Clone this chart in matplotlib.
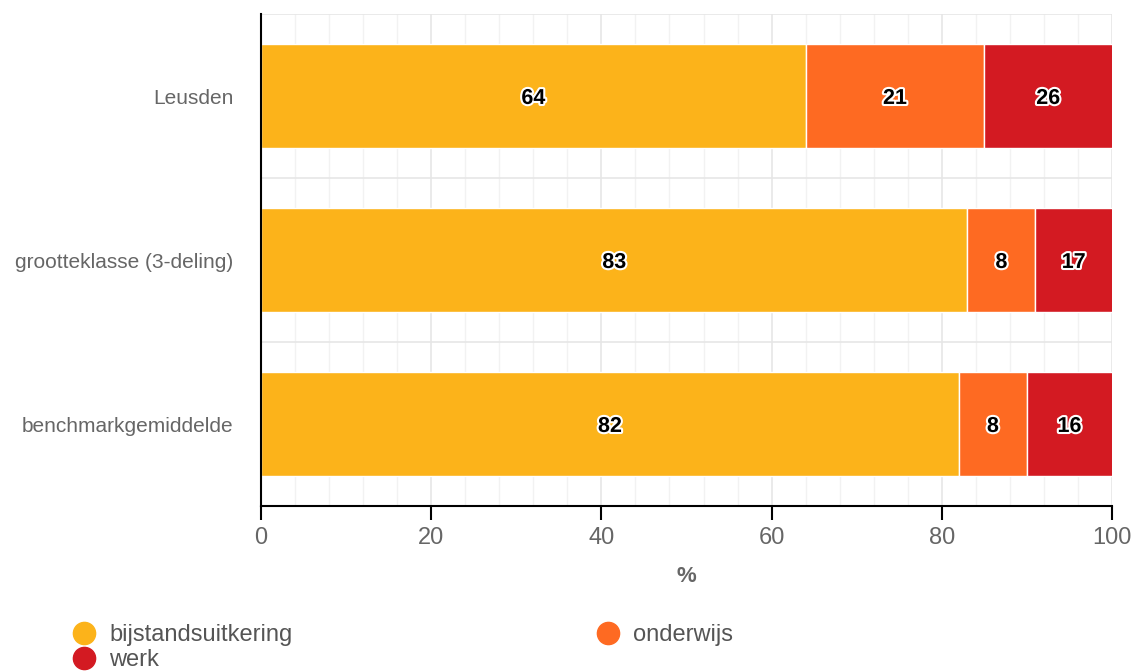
import matplotlib
matplotlib.use("Agg")
import matplotlib.pyplot as plt
import matplotlib.patheffects as pe
from matplotlib.lines import Line2D
import numpy as np

plt.rcParams['font.family'] = ['Liberation Sans', 'DejaVu Sans']

categories = ["Leusden", "grootteklasse (3-deling)", "benchmarkgemiddelde"]
series_names = ["bijstandsuitkering", "onderwijs", "werk"]
bijstand = [64, 83, 82]
onderwijs = [21, 8, 8]
werk = [26, 17, 16]
colors = ["#FCB31A", "#FE6A22", "#D31A22"]
xticks = [0, 20, 40, 60, 80, 100]

fig = plt.figure(figsize=(11.34, 6.71), dpi=100)
ax = fig.add_axes([261/1134, 1-506/671, (1112-261)/1134, (506-14)/671])

n = len(categories)
ypos = np.arange(n)
ax.set_xlim(0, 100)
ax.set_ylim(n - 0.5, -0.5)

# grid
for x in range(0, 101, 4):
    col = "#e6e6e6" if x % 20 == 0 else "#f2f2f2"
    ax.axvline(x, color=col, lw=1.2 if x % 20 == 0 else 1.0, zorder=0)
for yb in np.arange(-0.5, n, 1.0):
    ax.axhline(yb, color="#e6e6e6", lw=1.2, zorder=0)

left = np.zeros(n)
for vals, col in zip([bijstand, onderwijs, werk], colors):
    vals = np.array(vals, dtype=float)
    ax.barh(ypos, vals, left=left, height=0.64, color=col, edgecolor="white",
            linewidth=1, zorder=2, clip_on=True)
    for i in range(n):
        x0 = left[i]
        x1 = min(left[i] + vals[i], 100)
        xc = (x0 + x1) / 2
        ax.text(xc, ypos[i] + 0.015, f"{int(vals[i])}", ha="center", va="center",
                fontsize=15.5, fontweight="bold", color="black", zorder=4,
                path_effects=[pe.withStroke(linewidth=3, foreground="white")])
    left = left + vals

ax.set_yticks(ypos)
ax.set_yticklabels(categories, fontsize=15, color="#666666")
ax.tick_params(axis="y", length=0, pad=20)
ax.set_xticks(xticks)
ax.set_xticklabels([str(t) for t in xticks], fontsize=17, color="#666666")
ax.tick_params(axis="x", length=10, width=1.5, color="black", direction="out", pad=5)

for s in ["top", "right"]:
    ax.spines[s].set_visible(False)
ax.spines["left"].set_color("black")
ax.spines["left"].set_linewidth(1.5)
ax.spines["bottom"].set_color("black")
ax.spines["bottom"].set_linewidth(1.5)
ax.spines["left"].set_zorder(5)
ax.set_xlabel("%", fontsize=16, fontweight="bold", color="#666666", labelpad=12)

# legend
legend_pos = [(84, 633), (608, 633), (84, 658)]
for (px, py), name, col in zip(legend_pos, series_names, colors):
    fig.add_artist(Line2D([px/1134], [1-py/671], marker="o", markersize=16,
                          color=col, linestyle="none", transform=fig.transFigure))
    fig.text((px + 25)/1134, 1-(py+2)/671, name, fontsize=17, color="#555555",
             ha="left", va="center")

fig.savefig("out.png", dpi=100)
